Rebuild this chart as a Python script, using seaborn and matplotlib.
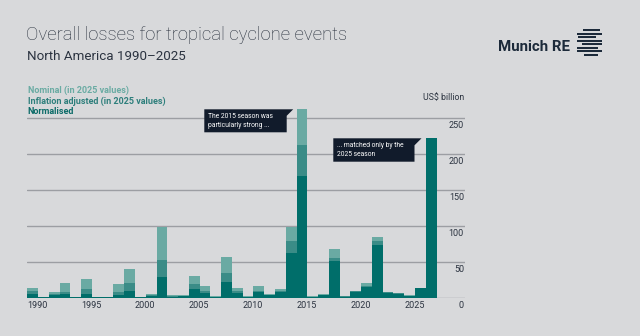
import numpy as np
import pandas as pd
import seaborn as sns
import matplotlib
matplotlib.use("Agg")
import matplotlib.pyplot as plt
from matplotlib.patches import Polygon, Rectangle
from matplotlib.transforms import offset_copy

# ---------------- data ----------------
years = list(range(1990, 2028))
nominal = [13.2, 1.9, 8.0, 21.2, 1.9, 26.9, 1.4, 1.4, 19.8, 40.0,
           1.9, 5.2, 98.6, 3.5, 4.0, 30.7, 17.0, 2.8, 56.6, 13.2,
           2.8, 17.0, 6.1, 12.3, 99.0, 262.0, 2.5, 6.1, 68.5, 2.8,
           10.4, 20.3, 84.7, 8.5, 7.1, 3.8, 14.2, 221.8]
inflation = [9.4, 1.4, 5.2, 8.0, 1.4, 12.3, 1.0, 1.0, 8.0, 20.8,
             1.4, 3.8, 53.3, 2.5, 3.0, 18.9, 10.0, 2.0, 35.0, 9.9,
             2.0, 9.9, 4.7, 9.9, 79.6, 212.5, 1.8, 4.2, 56.0, 2.2,
             9.5, 17.0, 79.0, 7.8, 6.4, 3.3, 14.2, 221.8]
normalised = [5.7, 1.0, 3.8, 5.2, 1.0, 6.1, 0.8, 0.8, 4.7, 9.4,
              1.0, 2.8, 29.7, 2.0, 2.5, 12.3, 6.6, 1.5, 22.2, 7.5,
              1.5, 9.0, 3.8, 8.0, 62.0, 169.4, 1.4, 3.8, 51.5, 1.8,
              8.5, 15.6, 73.6, 7.1, 5.7, 2.8, 14.2, 221.8]
tick_years = [1990, 1995, 2000, 2005, 2010, 2015, 2020, 2025]
y_ticks = [0, 50, 100, 150, 200, 250]
legend_labels = ["Nominal (in 2025 values)", "Inflation adjusted (in 2025 values)", "Normalised"]
title = "Overall losses for tropical cyclone events"
subtitle = "North America 1990\u20132025"
unit_label = "US$ billion"
note1 = ["The 2015 season was", "particularly strong ..."]
note2 = ["... matched only by the", "2025 season"]

df = pd.DataFrame({"year": years, "nominal": nominal,
                   "inflation": inflation, "normalised": normalised})

# ---------------- style ----------------
BG = "#d8d9db"
C_NOM = "#6aaaa3"
C_INF = "#3a8c87"
C_NORM = "#006e6a"
TXT = "#2b3340"
NAVY = "#111b2b"
GRID = "#9c9ea3"

sns.set_theme(style="white")
plt.rcParams["font.family"] = ["Roboto", "DejaVu Sans"]

W, H = 640, 336
fig = plt.figure(figsize=(6.4, 3.36), dpi=100, facecolor=BG)

def fx(x):
    return x / W

def fy(y):
    return 1 - y / H

left_px, right_px, base_px = 27.3, 465.0, 298.0
px_per_unit = 0.72
ymax = 265
ax = fig.add_axes([fx(left_px), fy(base_px), (right_px - left_px) / W,
                   ymax * px_per_unit / H])
ax.set_facecolor(BG)

for col, c in [("nominal", C_NOM), ("inflation", C_INF), ("normalised", C_NORM)]:
    sns.barplot(data=df, x="year", y=col, native_scale=True, width=1,
                color=c, saturation=1, errorbar=None, linewidth=0, ax=ax)

ax.set_xlim(1989.5, 1989.5 + (right_px - left_px) / 10.77)
ax.set_ylim(0, ymax)
ax.set_axisbelow(True)
ax.set_yticks(y_ticks)
ax.yaxis.grid(True, color=GRID, linewidth=1.0)
ax.xaxis.grid(False)
for s in ax.spines.values():
    s.set_visible(False)
ax.tick_params(axis="y", left=False, labelleft=False)
ax.set_xticks([y - 0.5 for y in tick_years])
ax.set_xticklabels([str(y) for y in tick_years], ha="left", fontsize=6.5, color=TXT)
ax.tick_params(axis="x", length=0, pad=2.5)
ax.set_xlabel("")
ax.set_ylabel("")

tr = offset_copy(ax.get_yaxis_transform(), fig=fig, x=-1, y=-7.4, units="dots")
for v in y_ticks:
    ax.text(1.0, v, str(v), transform=tr, ha="right", va="center",
            fontsize=6.5, color=TXT)

# ---------------- texts ----------------
fig.text(fx(26.5), fy(35), title, fontsize=13.3, fontweight="light",
         color="#252d3a", va="center", ha="left")
fig.text(fx(27), fy(56), subtitle, fontsize=9.6, color=TXT,
         va="center", ha="left")
for lab, c, y in zip(legend_labels, ["#6aaba3", "#2e7f7c", "#0b6b68"], [90.3, 101.3, 112]):
    fig.text(fx(27.5), fy(y), lab, fontsize=6.5, fontweight="bold",
             color=c, va="center", ha="left")
fig.text(fx(464), fy(98), unit_label, fontsize=6.3, color=TXT,
         va="center", ha="right")

# annotation boxes
def callout(x0, x1, y0, y1, tail):
    pts = [(x0, y0), (x1 + tail, y0), (x1, y0 + tail), (x1, y1), (x0, y1)]
    fig.add_artist(Polygon([(fx(a), fy(b)) for a, b in pts], closed=True,
                           transform=fig.transFigure, facecolor=NAVY,
                           edgecolor="none"))

callout(204.3, 286.7, 109.3, 132.3, 6.5)
fig.text(fx(208.3), fy(116.7), note1[0], fontsize=4.9, color="white", va="center")
fig.text(fx(208.3), fy(125.2), note1[1], fontsize=4.9, color="white", va="center")
callout(333.3, 414.5, 138.3, 161.7, 7)
fig.text(fx(337.3), fy(145.7), note2[0], fontsize=4.9, color="white", va="center")
fig.text(fx(337.3), fy(154.3), note2[1], fontsize=4.9, color="white", va="center")

# Munich RE logo
fig.text(fx(570), fy(47), "Munich RE", fontsize=10.8, fontweight="bold",
         color="#1c2a3a", ha="right", va="center")
stripes = [(30, 583, 600), (33.5, 577, 602), (37, 578, 596), (40.5, 577, 602),
           (44, 582, 602), (47.5, 577, 598), (51, 577, 602), (54.5, 584, 598)]
for y, a, b in stripes:
    fig.add_artist(Rectangle((fx(a), fy(y + 1)), (b - a) / W, 2.0 / H,
                             transform=fig.transFigure, facecolor="#1c2a3a",
                             edgecolor="none"))

fig.savefig("out.png", dpi=100, facecolor=BG)
